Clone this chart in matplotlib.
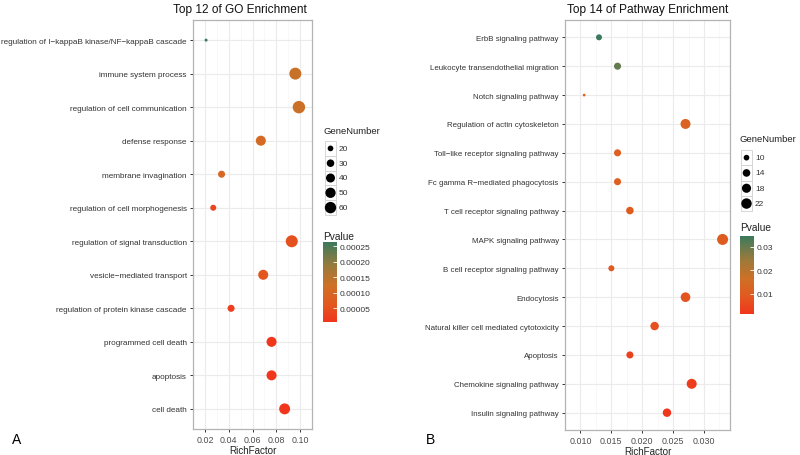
import matplotlib
matplotlib.use("Agg")
import matplotlib.pyplot as plt
import numpy as np
from matplotlib.colors import LinearSegmentedColormap, Normalize
from matplotlib.patches import Rectangle
from matplotlib.cm import ScalarMappable

plt.rcParams['font.family'] = ['Liberation Sans', 'DejaVu Sans']

# ---------------- data ----------------
go_terms = ["regulation of I\u2212kappaB kinase/NF\u2212kappaB cascade", "immune system process",
            "regulation of cell communication", "defense response", "membrane invagination",
            "regulation of cell morphogenesis", "regulation of signal transduction",
            "vesicle\u2212mediated transport", "regulation of protein kinase cascade",
            "programmed cell death", "apoptosis", "cell death"]
go_rich = [0.021, 0.096, 0.099, 0.067, 0.034, 0.027, 0.093, 0.069, 0.042, 0.076, 0.076, 0.087]
go_genes = [10, 60, 64, 44, 25, 20, 60, 44, 25, 44, 44, 51]
go_pvalue = [0.000263, 0.00013, 0.000125, 0.000105, 0.0001, 0.00003, 0.00005, 0.00006,
             0.00002, 0.000008, 0.000008, 0.000005]
go_size_breaks = [20, 30, 40, 50, 60]
go_p_ticks = [0.00005, 0.00010, 0.00015, 0.00020, 0.00025]
go_p_labels = ["0.00005", "0.00010", "0.00015", "0.00020", "0.00025"]
go_x_ticks = [0.02, 0.04, 0.06, 0.08, 0.10]
go_x_labels = ["0.02", "0.04", "0.06", "0.08", "0.10"]

pw_terms = ["ErbB signaling pathway", "Leukocyte transendothelial migration", "Notch signaling pathway",
            "Regulation of actin cytoskeleton", "Toll\u2212like receptor signaling pathway",
            "Fc gamma R\u2212mediated phagocytosis", "T cell receptor signaling pathway",
            "MAPK signaling pathway", "B cell receptor signaling pathway", "Endocytosis",
            "Natural killer cell mediated cytotoxicity", "Apoptosis",
            "Chemokine signaling pathway", "Insulin signaling pathway"]
pw_rich = [0.013, 0.016, 0.0106, 0.027, 0.016, 0.016, 0.018, 0.033, 0.015, 0.027, 0.022, 0.018, 0.028, 0.024]
pw_genes = [10, 12, 6, 19, 12, 12, 13, 22, 10, 18, 15, 12, 19, 15]
pw_pvalue = [0.0345, 0.030, 0.012, 0.012, 0.011, 0.011, 0.010, 0.010, 0.009, 0.008, 0.007, 0.004, 0.003, 0.0015]
pw_size_breaks = [10, 14, 18, 22]
pw_p_ticks = [0.01, 0.02, 0.03]
pw_p_labels = ["0.01", "0.02", "0.03"]
pw_x_ticks = [0.010, 0.015, 0.020, 0.025, 0.030]
pw_x_labels = ["0.010", "0.015", "0.020", "0.025", "0.030"]

cmap = LinearSegmentedColormap.from_list(
    "pv", [(0.0, "#f0361c"), (0.22, "#e2581f"), (0.45, "#cf7026"),
           (0.7, "#9a7a3c"), (1.0, "#3b7a5c")])

W, H = 800, 456
fig = plt.figure(figsize=(W / 100, H / 100), dpi=100)

def px_axes(x0, y0, x1, y1):
    return fig.add_axes([x0 / W, 1 - y1 / H, (x1 - x0) / W, (y1 - y0) / H])

def size_area(g, a, b):
    # diameter^2 (px) linear in gene count -> area in pt^2
    d = np.sqrt(np.maximum(a * np.asarray(g, float) + b, 4))
    return (d * 0.72) ** 2

def panel(box, terms, rich, genes, pv, xlim, xticks, xlabels, vmin, vmax, sa, sb, yfs):
    ax = px_axes(*box)
    n = len(terms)
    y = np.arange(n)[::-1]
    norm = Normalize(vmin, vmax)
    ax.scatter(rich, y, s=size_area(genes, sa, sb), c=pv, cmap=cmap, norm=norm,
               edgecolors='none', zorder=3)
    ax.set_xlim(*xlim)
    ax.set_ylim(-0.6, n - 1 + 0.6)
    ax.set_yticks(y)
    ax.set_yticklabels(terms, fontsize=yfs, color="#333333")
    ax.set_xticks(xticks)
    ax.set_xticklabels(xlabels, fontsize=6.4, color="#4d4d4d")
    minors = [(xticks[i] + xticks[i + 1]) / 2 for i in range(len(xticks) - 1)]
    minors = [xticks[0] - (xticks[1] - xticks[0]) / 2] + minors + [xticks[-1] + (xticks[1] - xticks[0]) / 2]
    ax.set_xticks(minors, minor=True)
    ax.tick_params(axis='x', which='minor', length=0)
    ax.grid(True, which='major', color="#ebebeb", lw=0.8, zorder=0)
    ax.grid(True, which='minor', axis='x', color="#f5f5f5", lw=0.5, zorder=0)
    ax.set_axisbelow(True)
    ax.tick_params(axis='both', which='major', length=2.5, width=0.7, color="#333333", pad=2)
    for s in ax.spines.values():
        s.set_color("#b3b3b3")
        s.set_linewidth(0.9)
    ax.set_xlabel("RichFactor", fontsize=7.1, labelpad=0.5, color="#222222")
    return ax

axA = panel((193, 21, 312, 430), go_terms, go_rich, go_genes, go_pvalue,
            (0.0171, 0.1029), go_x_ticks, go_x_labels,
            0.000005, 0.000263, 2.7, -18, 5.9)
axB = panel((565, 21, 730, 431), pw_terms, pw_rich, pw_genes, pw_pvalue,
            (0.00935, 0.0342), pw_x_ticks, pw_x_labels,
            0.0015, 0.0345, 7.1, -35, 5.7)

# ----- overlay axes in pixel coords for titles / legends -----
ov = fig.add_axes([0, 0, 1, 1], facecolor='none')
ov.set_xlim(0, W)
ov.set_ylim(H, 0)
ov.axis('off')

ov.text(240, 10, "Top 12 of GO Enrichment", fontsize=8.6, ha='center', va='center', color="#111111")
ov.text(647.5, 10, "Top 14 of Pathway Enrichment", fontsize=8.6, ha='center', va='center', color="#111111")

def size_legend(x0, ytitle, ytop, keyh, breaks, sa, sb):
    ov.text(x0, ytitle, "GeneNumber", fontsize=6.8, va='center', ha='left', color="#222222")
    for i, b in enumerate(breaks):
        yk = ytop + i * keyh
        ov.add_patch(Rectangle((x0 + 2, yk), 11, keyh, facecolor="white",
                               edgecolor="#d0d0d0", lw=0.6))
        ov.scatter([x0 + 7.5], [yk + keyh / 2], s=size_area([b], sa, sb) * 0.9,
                   color="black", edgecolors='none', zorder=4)
        ov.text(x0 + 16, yk + keyh / 2, str(b), fontsize=6.0, va='center', ha='left',
                color="#333333")

size_legend(323, 132, 142, 14.8, go_size_breaks, 2.7, -18)
size_legend(739, 140, 151, 15.3, pw_size_breaks, 7.1, -35)

def cbar(x0, ytitle, y0, y1, vmin, vmax, ticks, labels):
    ov.text(x0, ytitle, "Pvalue", fontsize=7.3, va='center', ha='left', color="#222222")
    cax = px_axes(x0, y0, x0 + 14, y1)
    sm = ScalarMappable(norm=Normalize(vmin, vmax), cmap=cmap)
    cb = fig.colorbar(sm, cax=cax, ticks=ticks)
    cb.outline.set_visible(False)
    cb.ax.set_yticklabels(labels, fontsize=6.0, color="#333333")
    cb.ax.tick_params(length=3, width=0.6, color="white", direction='in', pad=2)

cbar(323, 237, 243, 323, 0.000005, 0.000263, go_p_ticks, go_p_labels)
cbar(740, 228, 237, 315, 0.0015, 0.0345, pw_p_ticks, pw_p_labels)

ov.text(12, 440, "A", fontsize=10, va='center', ha='left')
ov.text(426, 440, "B", fontsize=10, va='center', ha='left')

fig.savefig("out.png", dpi=100)
